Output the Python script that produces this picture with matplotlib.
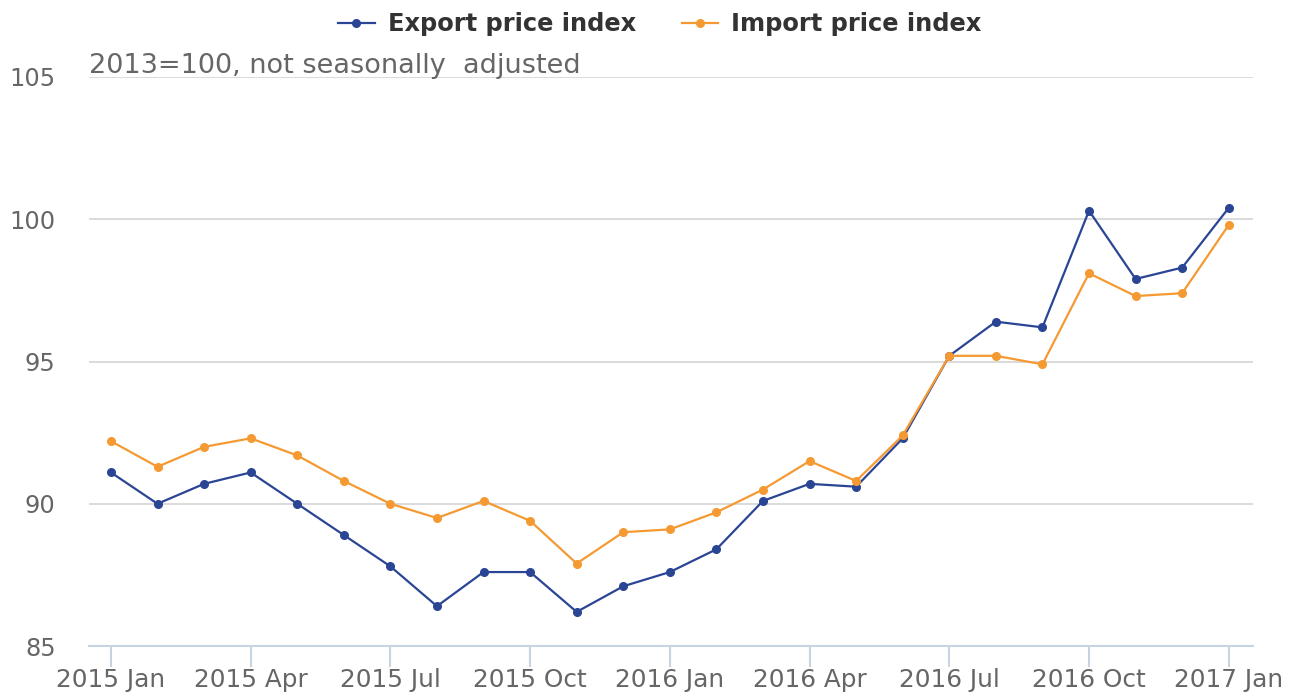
import matplotlib.pyplot as plt

plt.rcParams['font.family'] = ['DejaVu Sans']

meses = ["2015 Jan", "2015 Feb", "2015 Mar", "2015 Apr", "2015 May", "2015 Jun",
         "2015 Jul", "2015 Aug", "2015 Sep", "2015 Oct", "2015 Nov", "2015 Dec",
         "2016 Jan", "2016 Feb", "2016 Mar", "2016 Apr", "2016 May", "2016 Jun",
         "2016 Jul", "2016 Aug", "2016 Sep", "2016 Oct", "2016 Nov", "2016 Dec",
         "2017 Jan"]

export_idx = [91.1, 90.0, 90.7, 91.1, 90.0, 88.9, 87.8, 86.4, 87.6, 87.6, 86.2, 87.1,
              87.6, 88.4, 90.1, 90.7, 90.6, 92.3, 95.2, 96.4, 96.2, 100.3, 97.9, 98.3,
              100.4]
import_idx = [92.2, 91.3, 92.0, 92.3, 91.7, 90.8, 90.0, 89.5, 90.1, 89.4, 87.9, 89.0,
              89.1, 89.7, 90.5, 91.5, 90.8, 92.4, 95.2, 95.2, 94.9, 98.1, 97.3, 97.4,
              99.8]

y_ticks = [85, 90, 95, 100, 105]

AZUL = "#2b4595"
NARANJA = "#f59a32"
GRIS = "#666666"


def graficar():
    fig = plt.figure(figsize=(12.98, 6.96), dpi=100)
    ax = fig.add_axes([0.0686, 0.0718, 0.8967, 0.8176])

    x = list(range(len(meses)))
    ax.plot(x, export_idx, color=AZUL, lw=1.6, marker="o", ms=5.5,
            label="Export price index", zorder=3)
    ax.plot(x, import_idx, color=NARANJA, lw=1.6, marker="o", ms=5.5,
            label="Import price index", zorder=3)

    ax.set_xlim(-0.47, 24.52)
    ax.set_ylim(85, 105)
    ax.set_yticks(y_ticks)
    ax.set_yticklabels([str(v) for v in y_ticks])
    ax.set_xticks(x[::3])
    ax.set_xticklabels(meses[::3])

    ax.grid(axis="y", color="#d8d8d8", lw=1.3, zorder=0)
    for lado in ["top", "right", "left"]:
        ax.spines[lado].set_visible(False)
    ax.spines["bottom"].set_color("#c5d3e3")
    ax.spines["bottom"].set_linewidth(1.5)

    ax.tick_params(axis="y", length=0, pad=24, labelsize=17.4, labelcolor=GRIS)
    ax.tick_params(axis="x", length=15, width=1.5, color="#c5d3e3", pad=0.5,
                   labelsize=17.8, labelcolor=GRIS)

    ax.text(0, 1.007, "2013=100, not seasonally  adjusted", transform=ax.transAxes,
            fontsize=19.5, color=GRIS, ha="left", va="baseline")

    fig.legend(loc="upper center", bbox_to_anchor=(0.5085, 1.014), ncol=2,
               frameon=False, prop={"weight": "bold", "size": 17.4},
               handlelength=1.5, columnspacing=1.9, handletextpad=0.55,
               labelcolor="#333333")

    fig.savefig("out.png", dpi=100)
    print("[Grafica guardada como 'out.png']")


if __name__ == "__main__":
    graficar()
